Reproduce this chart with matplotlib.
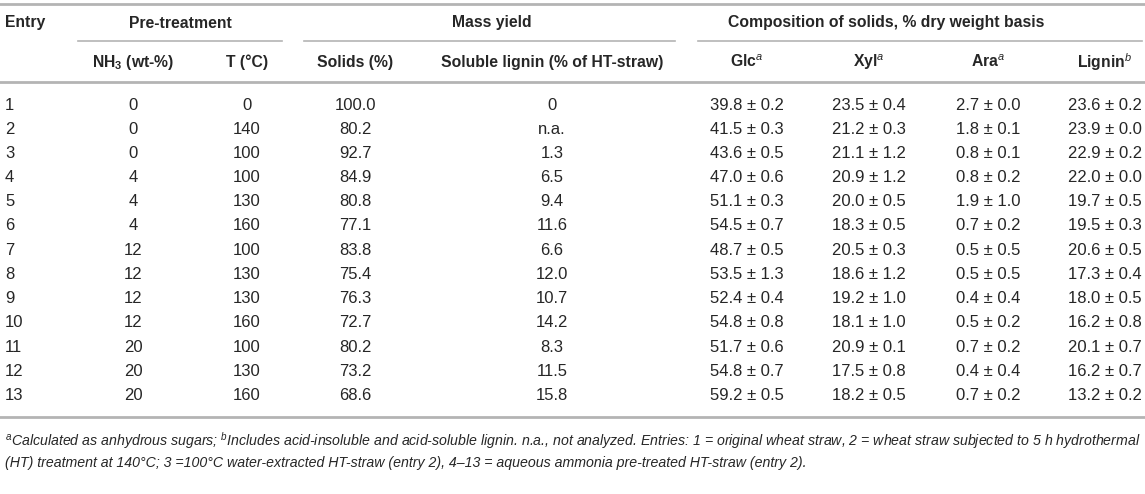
import matplotlib
matplotlib.use("Agg")
import matplotlib.pyplot as plt
from matplotlib.lines import Line2D

plt.rcParams['font.family'] = ['Liberation Sans', 'DejaVu Sans']
plt.rcParams['mathtext.fontset'] = 'custom'
plt.rcParams['mathtext.rm'] = 'Liberation Sans'
plt.rcParams['mathtext.it'] = 'Liberation Sans:italic'
plt.rcParams['mathtext.bf'] = 'Liberation Sans:bold'

# === table data ===
entries = [1, 2, 3, 4, 5, 6, 7, 8, 9, 10, 11, 12, 13]
nh3 = [0, 0, 0, 4, 4, 4, 12, 12, 12, 12, 20, 20, 20]
temp = [0, 140, 100, 100, 130, 160, 100, 130, 130, 160, 100, 130, 160]
solids = [100.0, 80.2, 92.7, 84.9, 80.8, 77.1, 83.8, 75.4, 76.3, 72.7, 80.2, 73.2, 68.6]
sol_lignin = ["0", "n.a.", "1.3", "6.5", "9.4", "11.6", "6.6", "12.0", "10.7", "14.2", "8.3", "11.5", "15.8"]
glc = [39.8, 41.5, 43.6, 47.0, 51.1, 54.5, 48.7, 53.5, 52.4, 54.8, 51.7, 54.8, 59.2]
glc_sd = [0.2, 0.3, 0.5, 0.6, 0.3, 0.7, 0.5, 1.3, 0.4, 0.8, 0.6, 0.7, 0.5]
xyl = [23.5, 21.2, 21.1, 20.9, 20.0, 18.3, 20.5, 18.6, 19.2, 18.1, 20.9, 17.5, 18.2]
xyl_sd = [0.4, 0.3, 1.2, 1.2, 0.5, 0.5, 0.3, 1.2, 1.0, 1.0, 0.1, 0.8, 0.5]
ara = [2.7, 1.8, 0.8, 0.8, 1.9, 0.7, 0.5, 0.5, 0.4, 0.5, 0.7, 0.4, 0.7]
ara_sd = [0.0, 0.1, 0.1, 0.2, 1.0, 0.2, 0.5, 0.5, 0.4, 0.2, 0.2, 0.4, 0.2]
lignin = [23.6, 23.9, 22.9, 22.0, 19.7, 19.5, 20.6, 17.3, 18.0, 16.2, 20.1, 16.2, 13.2]
lignin_sd = [0.2, 0.0, 0.2, 0.0, 0.5, 0.3, 0.5, 0.4, 0.5, 0.8, 0.7, 0.7, 0.2]

W, H = 1145, 494
fig = plt.figure(figsize=(W / 100, H / 100), dpi=100)
fig.patch.set_facecolor('white')

TXT = '#262626'
LINE = '#b4b4b4'
BODY = 12.0   # pt
HEAD = 11.3
FOOT = 10.2


def fx(x):
    return x / W


def fy(y):
    return 1 - y / H


def put(x, y, s, ha='center', **kw):
    kw.setdefault('fontsize', BODY)
    kw.setdefault('color', TXT)
    fig.text(fx(x), fy(y), s, ha=ha, va='center', **kw)


def hline(x0, x1, y, lw):
    fig.add_artist(Line2D([fx(x0), fx(x1)], [fy(y), fy(y)], color=LINE, lw=lw,
                          transform=fig.transFigure))


# === rules ===
hline(0, W, 4, 2.0)
hline(78, 282, 40.7, 1.2)
hline(304, 675, 40.7, 1.2)
hline(698, 1142, 40.7, 1.2)
hline(0, W, 81.7, 2.0)
hline(0, W, 417, 2.0)

# === header ===
put(5, 23, "Entry", ha='left', fontsize=HEAD, weight='bold')
put(180, 23, "Pre-treatment", fontsize=HEAD, weight='bold')
put(492, 23, "Mass yield", fontsize=HEAD, weight='bold')
put(886, 23, "Composition of solids, % dry weight basis", fontsize=HEAD, weight='bold')

col_x = [133, 247, 355, 552, 747, 869, 988, 1105]
sub_heads = [r"NH$_{\mathbf{3}}$ (wt-%)", "T (°C)", "Solids (%)",
             "Soluble lignin (% of HT-straw)",
             r"Glc$^{\mathit{a}}$", r"Xyl$^{\mathit{a}}$", r"Ara$^{\mathit{a}}$",
             r"Lignin$^{\mathit{b}}$"]
for x, s in zip(col_x, sub_heads):
    put(x, 62, s, fontsize=HEAD, weight='bold')

# === body rows ===
row0, dy = 105, 24.2
for i in range(len(entries)):
    y = row0 + i * dy
    put(5, y, str(entries[i]), ha='left')
    put(col_x[0], y, str(nh3[i]))
    put(col_x[1], y, str(temp[i]))
    put(col_x[2], y, f"{solids[i]:.1f}")
    put(col_x[3], y, sol_lignin[i])
    put(col_x[4], y, f"{glc[i]:.1f} ± {glc_sd[i]:.1f}")
    put(col_x[5], y, f"{xyl[i]:.1f} ± {xyl_sd[i]:.1f}")
    put(col_x[6], y, f"{ara[i]:.1f} ± {ara_sd[i]:.1f}")
    put(col_x[7], y, f"{lignin[i]:.1f} ± {lignin_sd[i]:.1f}")

# === footnote ===
foot1 = (r"$^{a}$Calculated as anhydrous sugars; $^{b}$Includes acid-insoluble and acid-soluble lignin. "
         r"n.a., not analyzed. Entries: 1 = original wheat straw, 2 = wheat straw subjected to 5 h hydrothermal")
foot2 = (r"(HT) treatment at 140°C; 3 =100°C water-extracted HT-straw (entry 2), "
         r"4–13 = aqueous ammonia pre-treated HT-straw (entry 2).")
put(5, 441, foot1, ha='left', fontsize=FOOT, style='italic')
put(5, 463, foot2, ha='left', fontsize=FOOT, style='italic')

fig.savefig("out.png", dpi=100, facecolor='white')
